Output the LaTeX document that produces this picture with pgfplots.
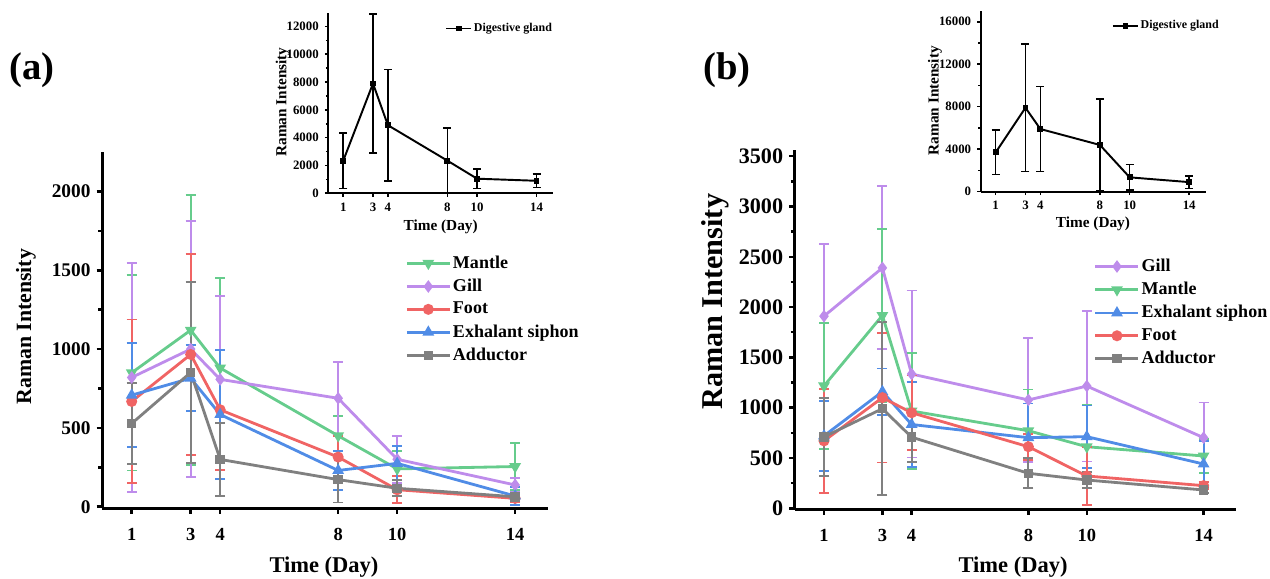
\documentclass[border=0pt]{standalone}
\usepackage{fontspec}
\setmainfont{Liberation Serif}
\usepackage{pgfplots}
\pgfplotsset{compat=1.18}

\definecolor{cmantle}{RGB}{102,204,140}
\definecolor{cgill}{RGB}{190,140,235}
\definecolor{cfoot}{RGB}{240,100,100}
\definecolor{cexhal}{RGB}{80,140,230}
\definecolor{cadduct}{RGB}{128,128,128}

\newcommand{\fs}[1]{\fontsize{#1}{#1}\bfseries\selectfont}

\pgfplotsset{
  base/.style={
    scale only axis, axis lines=left, clip=false,
    axis line style={-, line width=1.8pt},
    tick align=outside,
    tick style={black, line width=1.4pt},
    major tick length=0.11cm, minor tick length=0.08cm,
    xmin=0, xmax=15.1, xtick={1,3,4,8,10,14},
    minor y tick num=1,
    scaled y ticks=false,
    /pgf/number format/1000 sep={},
    /pgf/number format/assume math mode=true,
    every axis y label/.style={rotate=90, anchor=center},
    every axis x label/.style={anchor=center},
  },
  ser/.style={color=#1, line width=1.6pt, mark size=2.3pt,
    error bars/y dir=both, error bars/y explicit,
    error bars/error mark=-,
    error bars/error bar style={line width=1.1pt, color=#1},
    error bars/error mark options={rotate=90, line width=1.1pt, mark size=0.1cm, color=#1}},
  inset/.style={base,
    axis line style={-, line width=1.1pt},
    tick style={black, line width=0.9pt},
    major tick length=0.07cm, minor tick length=0.05cm,
    ticklabel style={font=\fs{7.3}},
    label style={font=\fs{8.7}},
    legend style={draw=none, fill=none, anchor=west, font=\fs{6.8},
      inner sep=0pt, nodes={inner sep=1pt}},
    legend image code/.code={\draw[mark repeat=2,mark phase=2,##1]
      plot coordinates {(0cm,0cm) (0.25cm,0cm) (0.5cm,0cm)};},
  },
  blk/.style={black, line width=1.1pt, mark=square*, mark size=1.1pt,
    mark options={fill=black, draw=black},
    error bars/y dir=both, error bars/y explicit,
    error bars/error mark=-,
    error bars/error bar style={line width=0.9pt, black},
    error bars/error mark options={rotate=90, line width=0.9pt, mark size=0.08cm, black}},
  mainlegend/.style={legend style={draw=none, fill=none, anchor=north west,
      font=\fs{10.25}, inner sep=0pt, row sep=0.6pt,
      nodes={inner xsep=1pt, inner ysep=2pt}},
    legend cell align=left,
    legend image code/.code={\draw[mark repeat=2,mark phase=2,##1]
      plot coordinates {(0cm,0cm) (0.43cm,0cm) (0.86cm,0cm)};}},
}

\begin{document}
\begin{tikzpicture}
\useasboundingbox (0,0) rectangle (25.4cm,11.58cm);

\node[font=\fs{22}] at (0.64cm,10.18cm) {(a)};
\node[font=\fs{22}] at (14.54cm,10.18cm) {(b)};

% ---------- panel (a) main ----------
\begin{axis}[base, mainlegend,
  at={(2.044cm,1.414cm)}, anchor=south west,
  width=8.908cm, height=7.124cm,
  ymin=-10, ymax=2250, ytick={0,500,1000,1500,2000},
  yticklabel style={font=\fs{11}},
  xticklabel style={font=\fs{10.5}, yshift=-0.17cm},
  ylabel={Raman Intensity}, ylabel style={font=\fs{12.4}, at={(axis description cs:-0.171,0.51)}},
  xlabel={Time (Day)}, xlabel style={font=\fs{12.8}, at={(axis description cs:0.498,-0.165)}},
  legend style={at={(0.68,0.72)}},
]
\addplot+[ser=cmantle, mark=triangle*, mark options={rotate=180, fill=cmantle, draw=cmantle}]
  table[x=x, y=y, y error=e] {
x y e
1 850 620
3 1120 855
4 880 570
8 450 128
10 240 115
14 255 148
};
\addlegendentry{Mantle}
\addplot+[ser=cgill, mark=diamond*, mark options={fill=cgill, draw=cgill}]
  table[x=x, y=y, y error=e] {
x y e
1 820 725
3 1000 810
4 808 530
8 688 232
10 301 150
14 138 45
};
\addlegendentry{Gill}
\addplot+[ser=cfoot, mark=*, mark options={fill=cfoot, draw=cfoot}]
  table[x=x, y=y, y error=e] {
x y e
1 668 520
3 966 640
4 615 380
8 315 135
10 108 85
14 53 25
};
\addlegendentry{Foot}
\addplot+[ser=cexhal, mark=triangle*, mark options={fill=cexhal, draw=cexhal}]
  table[x=x, y=y, y error=e] {
x y e
1 708 330
3 815 210
4 585 410
8 230 125
10 275 108
14 68 60
};
\addlegendentry{Exhalant siphon}
\addplot+[ser=cadduct, mark=square*, mark size=1.9pt, mark options={fill=cadduct, draw=cadduct}]
  table[x=x, y=y, y error=e] {
x y e
1 528 255
3 852 575
4 300 230
8 172 145
10 117 50
14 63 25
};
\addlegendentry{Adductor}
\end{axis}

% ---------- panel (a) inset ----------
\begin{axis}[inset,
  at={(6.568cm,7.714cm)}, anchor=south west,
  width=4.49cm, height=3.614cm,
  ymin=0, ymax=13000, ytick={0,2000,4000,6000,8000,10000,12000},
  ylabel={Raman Intensity}, ylabel style={at={(axis description cs:-0.204,0.505)}},
  xlabel={Time (Day)}, xlabel style={at={(axis description cs:0.5,-0.185)}},
  legend style={at={(0.519,0.912)}},
]
\addplot+[blk] table[x=x, y=y, y error=e] {
x y e
1 2350 2000
3 7900 5000
4 4900 4000
8 2350 2350
10 1050 700
14 900 490
};
\addlegendentry{Digestive gland}
\end{axis}

% ---------- panel (b) main ----------
\begin{axis}[base, mainlegend,
  at={(15.896cm,1.394cm)}, anchor=south west,
  width=8.818cm, height=7.182cm,
  ymin=-10, ymax=3560, ytick={0,500,1000,1500,2000,2500,3000,3500},
  yticklabel style={font=\fs{12.6}},
  xticklabel style={font=\fs{10.5}, yshift=-0.17cm},
  ylabel={Raman Intensity}, ylabel style={font=\fs{17.2}, at={(axis description cs:-0.181,0.578)}},
  xlabel={Time (Day)}, xlabel style={font=\fs{12.8}, at={(axis description cs:0.495,-0.16)}},
  legend style={at={(0.678,0.708)}},
]
\addplot+[ser=cgill, mark=diamond*, mark options={fill=cgill, draw=cgill}]
  table[x=x, y=y, y error=e] {
x y e
1 1910 720
3 2390 810
4 1335 830
8 1077 620
10 1215 750
14 702 350
};
\addlegendentry{Gill}
\addplot+[ser=cmantle, mark=triangle*, mark options={rotate=180, fill=cmantle, draw=cmantle}]
  table[x=x, y=y, y error=e] {
x y e
1 1217 625
3 1917 860
4 967 575
8 771 410
10 612 415
14 520 165
};
\addlegendentry{Mantle}
\addplot+[ser=cexhal, mark=triangle*, mark options={fill=cexhal, draw=cexhal}]
  table[x=x, y=y, y error=e] {
x y e
1 720 350
3 1160 230
4 833 420
8 702 340
10 712 310
14 440 230
};
\addlegendentry{Exhalant siphon}
\addplot+[ser=cfoot, mark=*, mark options={fill=cfoot, draw=cfoot}]
  table[x=x, y=y, y error=e] {
x y e
1 670 520
3 1100 645
4 950 370
8 612 130
10 321 290
14 225 35
};
\addlegendentry{Foot}
\addplot+[ser=cadduct, mark=square*, mark size=1.9pt, mark options={fill=cadduct, draw=cadduct}]
  table[x=x, y=y, y error=e] {
x y e
1 710 390
3 990 860
4 707 250
8 348 150
10 281 80
14 182 30
};
\addlegendentry{Adductor}
\end{axis}

% ---------- panel (b) inset ----------
\begin{axis}[inset,
  at={(19.616cm,7.746cm)}, anchor=south west,
  width=4.496cm, height=3.612cm,
  ymin=0, ymax=17000, ytick={0,4000,8000,12000,16000},
  ylabel={Raman Intensity}, ylabel style={at={(axis description cs:-0.204,0.504)}},
  xlabel={Time (Day)}, xlabel style={at={(axis description cs:0.499,-0.18)}},
  legend style={at={(0.582,0.918)}},
]
\addplot+[blk] table[x=x, y=y, y error=e] {
x y e
1 3700 2100
3 7900 6000
4 5900 4000
8 4400 4300
10 1350 1200
14 900 600
};
\addlegendentry{Digestive gland}
\end{axis}
\end{tikzpicture}
\end{document}
